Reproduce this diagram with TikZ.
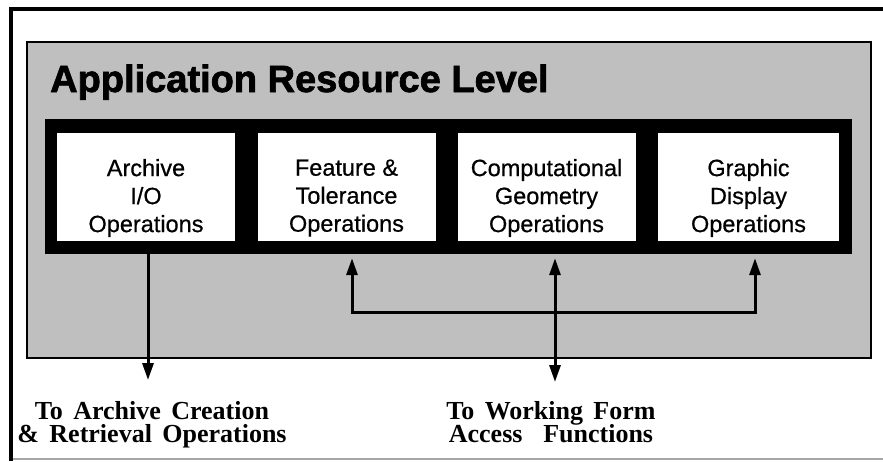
\documentclass[tikz,border=0pt]{standalone}
\usepackage{fontspec}
\setmainfont{Liberation Serif}
\newfontfamily\boxfont[FakeBold=0.6]{Liberation Sans}
\newfontfamily\titlefont[FakeBold=1.8]{Liberation Sans Bold}
\newfontfamily\labfont[WordSpace=1.6]{Liberation Serif Bold}
\usetikzlibrary{arrows.meta}
\begin{document}
\begin{tikzpicture}[x=1pt,y=-1pt,
  panel/.style={fill=black!25, draw=black, line width=2.4pt},
  bandbox/.style={fill=black, inner sep=0pt, minimum width=807pt, minimum height=135pt},
  opbox/.style={fill=white, inner sep=0pt, minimum width=178pt, minimum height=108pt},
  boxtext/.style={font={\boxfont\fontsize{23.5}{28}\selectfont\lineskiplimit=-20pt}, align=center, inner sep=0pt},
  lab/.style={font={\labfont\fontsize{26}{23.5}\selectfont\lineskiplimit=-20pt}, align=center, inner sep=0pt, anchor=north},
  tip/.tip={Triangle[length=17pt,width=11pt]},
  arr/.style={line width=3pt, -tip, line join=miter},
  darr/.style={line width=3pt, tip-tip, line join=miter},
]
\useasboundingbox (0,0) rectangle (883,461);
\fill[white] (0,0) rectangle (883,461);
% outer frame
\draw[line width=1.5pt, black!35] (11,459) -- (883,459);
\draw[line width=3.5pt] (11,461) -- (11,9) -- (883,9);
% panel
\draw[panel] (27,42) rectangle (871,358);
\node[anchor=base west, font={\titlefont\fontsize{38}{40}\selectfont}, inner sep=0pt] (title) at (50,92) {Application Resource Level};
% band and boxes
\node[bandbox] (band) at (448.5,186.5) {};
\node[opbox] (b1) at (146,187) {};
\node[opbox] (b2) at (346.5,187) {};
\node[opbox] (b3) at (546.5,187) {};
\node[opbox, minimum width=181pt] (b4) at (748.5,187) {};
\node[boxtext] (t1) at ([yshift=-11pt]b1.center) {Archive\\I/O\\Operations};
\node[boxtext] (t2) at ([yshift=-11pt]b2.center) {Feature \&\\Tolerance\\Operations};
\node[boxtext] (t3) at ([yshift=-11pt]b3.center) {Computational\\Geometry\\Operations};
\node[boxtext] (t4) at ([yshift=-11pt]b4.center) {Graphic\\Display\\Operations};
% labels
\node[lab] (l1) at (152,401) {To Archive Creation\\\& Retrieval Operations};
\node[lab] (l2) at (551,401) {To Working Form\\Access\hspace{0.4em} Functions};
% connectors
\coordinate (tipy) at ([yshift=-4pt]band.south);
\coordinate (a1) at (148,380);
\coordinate (j2) at (352,312);
\coordinate (j4) at (755,312);
\coordinate (a2) at (555,382);
\draw[arr] (b1.south -| a1) -- (a1);
\draw[darr] (tipy -| j2) -- (j2) -- (j4) -- (tipy -| j4);
\draw[darr] (tipy -| a2) -- (a2);
\end{tikzpicture}
\end{document}
